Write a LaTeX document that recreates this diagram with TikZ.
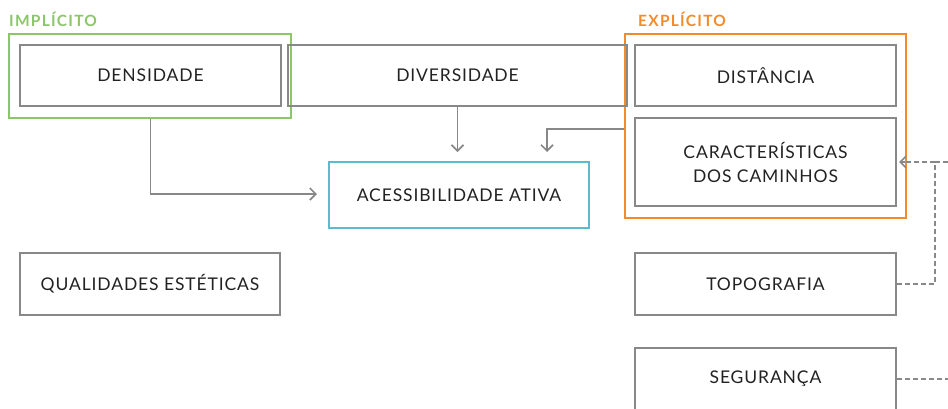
\documentclass[tikz,border=0pt]{standalone}
\usepackage{fontspec}
\usetikzlibrary{arrows.meta,calc}
\newfontfamily\boxfont[LetterSpace=5]{Lato}
\newfontfamily\headfont[LetterSpace=8]{Lato Bold}
\definecolor{impgreen}{HTML}{8CC66A}
\definecolor{exporange}{HTML}{F28B2B}
\definecolor{acccyan}{HTML}{5FB9CF}
\definecolor{linegray}{HTML}{888888}
\definecolor{txt}{HTML}{222222}
\tikzset{
  fbox/.style={draw=linegray,line width=2pt,rectangle,text=txt,font=\boxfont\fontsize{17.5}{24}\selectfont,align=center,inner sep=0pt},
  grp/.style={line width=2pt,rectangle,inner sep=0pt},
  head/.style={font=\headfont\fontsize{15.5}{17}\selectfont,anchor=west,inner sep=0pt},
  arr/.style={draw=linegray,line width=1.7pt,-{Straight Barb[length=6pt,width=12pt,line width=1.7pt]}},
  dsh/.style={draw=linegray,line width=1.8pt,dash pattern=on 5pt off 3pt}
}
\begin{document}
\begin{tikzpicture}[x=1pt,y=-1pt]
\useasboundingbox (0,0) rectangle (948,408);
% group frames
\node[grp,draw=impgreen,minimum width=282pt,minimum height=84pt] (impl) at (150,76) {};
\node[grp,draw=exporange,minimum width=281pt,minimum height=184pt] (expl) at (765.5,126) {};
\node[head,text=impgreen] (implh) at (9,19) {IMPLÍCITO};
\node[head,text=exporange] (explh) at (638,19) {EXPLÍCITO};
% boxes
\node[fbox,minimum width=261pt,minimum height=61pt] (dens) at (150.5,75.5) {DENSIDADE};
\node[fbox,minimum width=339pt,minimum height=61pt] (div) at (457.5,75.5) {DIVERSIDADE};
\node[fbox,minimum width=261pt,minimum height=61pt] (dist) at (765.5,75.5) {DISTÂNCIA};
\node[fbox,minimum width=261pt,minimum height=88pt] (car) at (765.5,162) {CARACTERÍSTICAS\\DOS CAMINHOS};
\node[fbox,draw=acccyan,minimum width=260pt,minimum height=66pt] (acc) at (459,195) {ACESSIBILIDADE ATIVA};
\node[fbox,minimum width=260pt,minimum height=62pt] (qual) at (150,284) {QUALIDADES ESTÉTICAS};
\node[fbox,minimum width=261pt,minimum height=62pt] (topo) at (765.5,284) {TOPOGRAFIA};
\node[fbox,minimum width=261pt,minimum height=62pt] (seg) at (765.5,379) {SEGURANÇA};
% connectors
\draw[arr] (impl.south -| dens.south) |- ([xshift=-11pt,yshift=1pt]acc.west);
\draw[arr] (div.south) -- ([yshift=9pt]acc.north -| div.south);
\draw[arr] ([yshift=-3pt]expl.west) -| ([xshift=88pt,yshift=9pt]acc.north);
\coordinate (tc) at ($(car.east)+(38,0)$);
\draw[dsh] (topo.east) -| (tc);
\draw[dsh] (tc) -- ([xshift=5pt]car.east);
\draw[draw=linegray,line width=1.7pt,-{Straight Barb[length=6pt,width=12pt,line width=1.7pt]}] ([xshift=8pt]car.east) -- ([xshift=2pt]car.east);
\draw[dsh] (tc) -- ++(20,0);
\draw[dsh] (seg.east) -- ++(60,0);
\end{tikzpicture}
\end{document}
